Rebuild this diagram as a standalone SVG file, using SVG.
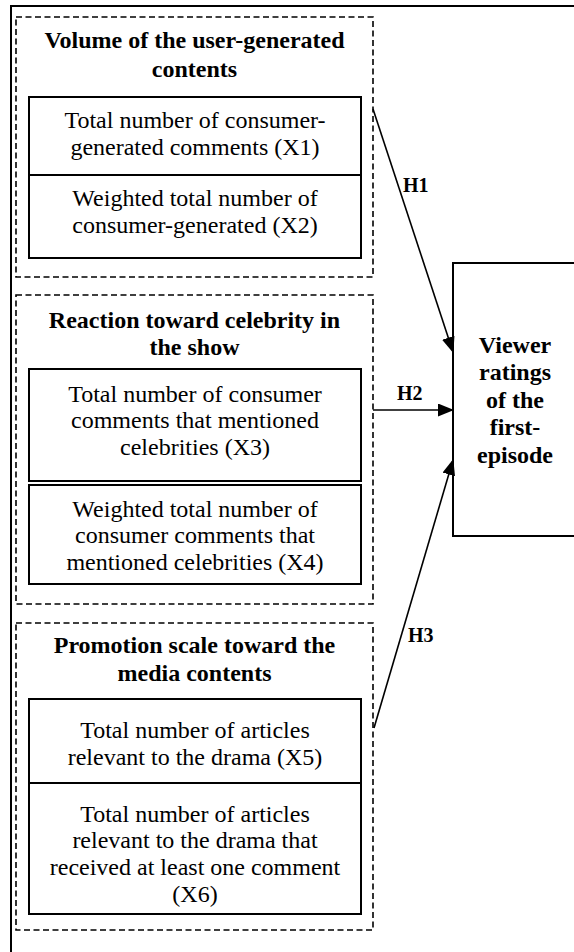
<svg xmlns="http://www.w3.org/2000/svg" width="574" height="952" viewBox="0 0 574 952">
<style>
.frame{fill:none;stroke:#000;stroke-width:2}
.dash{fill:none;stroke:#000;stroke-width:1.6;stroke-dasharray:6 3.5}
.box{fill:#fff;stroke:#000;stroke-width:2}
.t{font-family:"Liberation Serif","Times New Roman",serif;font-size:24px;fill:#000;text-anchor:middle}
.b{font-weight:bold}
.h{font-family:"Liberation Serif","Times New Roman",serif;font-size:20px;font-weight:bold;fill:#000}
.conn{stroke:#000;stroke-width:1.6;fill:none}
</style>
<defs>
<marker id="ah" markerUnits="userSpaceOnUse" markerWidth="16" markerHeight="14" refX="15" refY="6.5" orient="auto">
<path d="M0,0 L16,6.5 L0,13 Z" fill="#000"/>
</marker>
</defs>
<rect width="574" height="952" fill="#fff"/>
<path class="frame" d="M11,952 V6 H574"/>

<g id="group1">
<rect class="dash" x="16" y="17" width="357" height="260"/>
<text class="t b" x="194.5" y="48">Volume of the user-generated</text>
<text class="t b" x="194.5" y="77">contents</text>
</g>
<g id="x1">
<rect class="box" x="29" y="97" width="332" height="78"/>
<text class="t" x="195" y="128">Total number of consumer-</text>
<text class="t" x="195" y="155">generated comments (X1)</text>
</g>
<g id="x2">
<rect class="box" x="29" y="175" width="332" height="83"/>
<text class="t" x="195" y="206">Weighted total number of</text>
<text class="t" x="195" y="233">consumer-generated (X2)</text>
</g>

<g id="group2">
<rect class="dash" x="16" y="295" width="357" height="309"/>
<text class="t b" x="194.5" y="328">Reaction toward celebrity in</text>
<text class="t b" x="194.5" y="355">the show</text>
</g>
<g id="x3">
<rect class="box" x="29" y="369" width="332" height="112"/>
<text class="t" x="195" y="402">Total number of consumer</text>
<text class="t" x="195" y="428">comments that mentioned</text>
<text class="t" x="195" y="455">celebrities (X3)</text>
</g>
<g id="x4">
<rect class="box" x="29" y="485" width="332" height="99"/>
<text class="t" x="195" y="517">Weighted total number of</text>
<text class="t" x="195" y="543">consumer comments that</text>
<text class="t" x="195" y="570">mentioned celebrities (X4)</text>
</g>

<g id="group3">
<rect class="dash" x="16" y="623" width="357" height="307"/>
<text class="t b" x="194.5" y="653">Promotion scale toward the</text>
<text class="t b" x="194.5" y="681">media contents</text>
</g>
<g id="x5">
<rect class="box" x="29" y="699" width="332" height="84"/>
<text class="t" x="195" y="738">Total number of articles</text>
<text class="t" x="195" y="765">relevant to the drama (X5)</text>
</g>
<g id="x6">
<rect class="box" x="29" y="783" width="332" height="131"/>
<text class="t" x="195" y="822">Total number of articles</text>
<text class="t" x="195" y="848">relevant to the drama that</text>
<text class="t" x="195" y="875">received at least one comment</text>
<text class="t" x="195" y="902">(X6)</text>
</g>

<g id="outcome">
<rect class="box" x="453" y="263" width="130" height="273"/>
<text class="t b" x="515" y="353">Viewer</text>
<text class="t b" x="515" y="380">ratings</text>
<text class="t b" x="515" y="408">of the</text>
<text class="t b" x="515" y="435">first-</text>
<text class="t b" x="515" y="463">episode</text>
</g>

<g id="connectors">
<line class="conn" x1="373" y1="109" x2="453" y2="352" marker-end="url(#ah)"/>
<line class="conn" x1="373" y1="410" x2="453" y2="410" marker-end="url(#ah)"/>
<line class="conn" x1="374" y1="728" x2="453" y2="460" marker-end="url(#ah)"/>
<text class="h" x="403" y="192">H1</text>
<text class="h" x="397" y="400">H2</text>
<text class="h" x="408" y="642">H3</text>
</g>
</svg>
